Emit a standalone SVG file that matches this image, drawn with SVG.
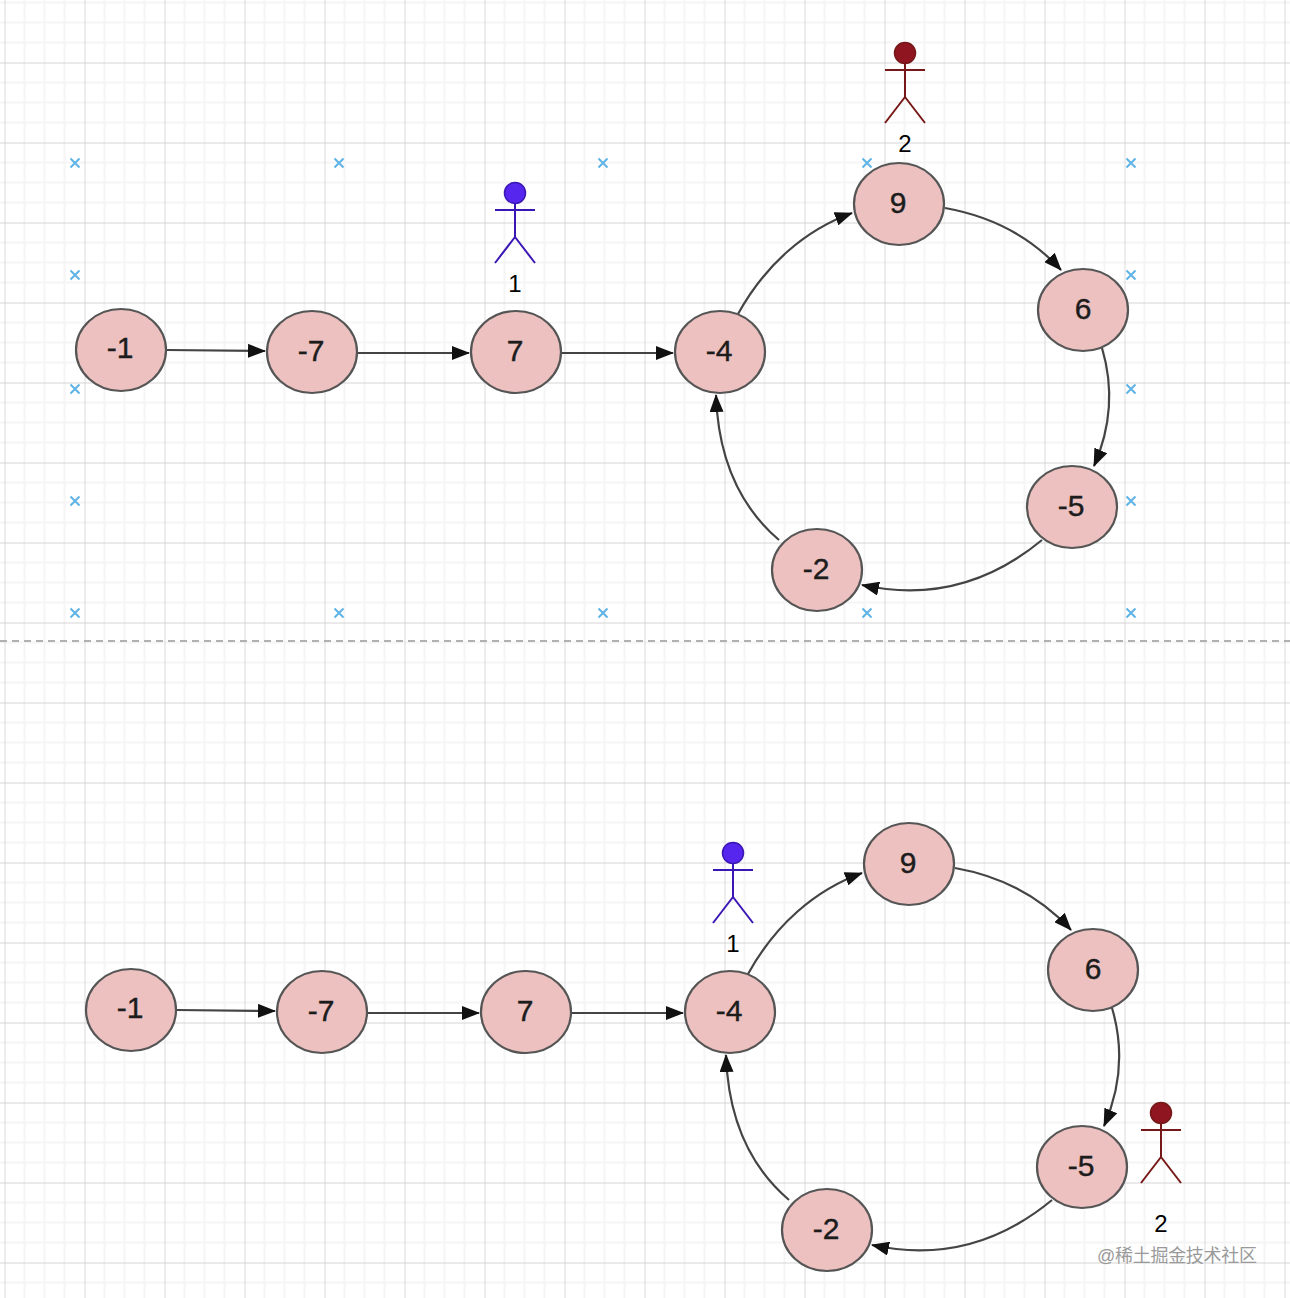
<svg xmlns="http://www.w3.org/2000/svg" width="1290" height="1298" viewBox="0 0 1290 1298">
<style>
.n ellipse{fill:#ecc1c0;stroke:#555;stroke-width:2.200}
.n text{font:30px "Liberation Sans",Arial,sans-serif;fill:#1c1c1c;stroke:#1c1c1c;stroke-width:.4;text-anchor:middle}
.c{fill:none;stroke:#444;stroke-width:2.200;marker-end:url(#arrow)}
.x{stroke:#5fb4e6;stroke-width:2;fill:none}
.a text{font:24px "Liberation Sans",Arial,sans-serif;fill:#000;text-anchor:middle}
.a line{stroke-width:2}
.blue line{stroke:#3a16b4}.blue circle{fill:#5626ee;stroke:#3a16b4;stroke-width:1.5}
.red line{stroke:#761818}.red circle{fill:#8f1520;stroke:#761818;stroke-width:1.5}
</style>
<defs>
<marker id="arrow" viewBox="0 0 18 14" refX="17" refY="7" markerWidth="18" markerHeight="14" markerUnits="userSpaceOnUse" orient="auto"><path d="M0 0L18 7L0 14Z" fill="#111"/></marker>
<pattern id="grid" width="80" height="80" patternUnits="userSpaceOnUse" x="4.500" y="-17.500">
<path d="M20 0V80M40 0V80M60 0V80M0 20H80M0 40H80M0 60H80" stroke="#f5f5f5" stroke-width="2" fill="none"/>
<path d="M0 0V80M0 0H80" stroke="#c8c8c8" stroke-width="1.300" fill="none"/>
</pattern>
<path id="cross" class="x" d="M-4.500 -4.500L4.500 4.500M-4.500 4.500L4.500 -4.500"/>
</defs>
<rect width="1290" height="1298" fill="#fff"/>
<rect width="1290" height="1298" fill="url(#grid)"/>
<line x1="0" y1="641" x2="1290" y2="641" stroke="#b0b0b0" stroke-width="2" stroke-dasharray="7 5"/>
<g id="crosses">
<use href="#cross" x="75" y="163"/><use href="#cross" x="339" y="163"/><use href="#cross" x="603" y="163"/><use href="#cross" x="867" y="163"/><use href="#cross" x="1131" y="163"/>
<use href="#cross" x="75" y="275"/><use href="#cross" x="1131" y="275"/>
<use href="#cross" x="75" y="389"/><use href="#cross" x="1131" y="389"/>
<use href="#cross" x="75" y="501"/><use href="#cross" x="1131" y="501"/>
<use href="#cross" x="75" y="613"/><use href="#cross" x="339" y="613"/><use href="#cross" x="603" y="613"/><use href="#cross" x="867" y="613"/><use href="#cross" x="1131" y="613"/>
</g>
<g id="connectors">
<path class="c" d="M167 350L265 351"/>
<path class="c" d="M358 353H469"/>
<path class="c" d="M562 353H673"/>
<path class="c" d="M738 314C765 265 805 230 852 213"/>
<path class="c" d="M945 208C990 216 1030 236 1061 270"/>
<path class="c" d="M1102 348C1113 385 1112 425 1094 466"/>
<path class="c" d="M1042 540C990 583 930 600 862 585"/>
<path class="c" d="M779 540C738 505 718 455 716 395"/>
<path class="c" d="M177 1010L275 1011"/>
<path class="c" d="M368 1013H479"/>
<path class="c" d="M572 1013H683"/>
<path class="c" d="M748 974C775 925 815 890 862 873"/>
<path class="c" d="M955 868C1000 876 1040 896 1071 930"/>
<path class="c" d="M1112 1008C1123 1045 1122 1085 1104 1126"/>
<path class="c" d="M1052 1200C1000 1243 940 1260 872 1245"/>
<path class="c" d="M789 1200C748 1165 728 1115 726 1055"/>
</g>
<g id="n1" class="n"><ellipse cx="121" cy="350" rx="45" ry="41"/><text x="120" y="358">-1</text></g>
<g id="n2" class="n"><ellipse cx="312" cy="352" rx="45" ry="41"/><text x="311" y="361">-7</text></g>
<g id="n3" class="n"><ellipse cx="516" cy="352" rx="45" ry="41"/><text x="515" y="361">7</text></g>
<g id="n4" class="n"><ellipse cx="720" cy="352" rx="45" ry="41"/><text x="719" y="361">-4</text></g>
<g id="n5" class="n"><ellipse cx="899" cy="204" rx="45" ry="41"/><text x="898" y="213">9</text></g>
<g id="n6" class="n"><ellipse cx="1083" cy="310" rx="45" ry="41"/><text x="1083" y="319">6</text></g>
<g id="n7" class="n"><ellipse cx="1072" cy="507" rx="45" ry="41"/><text x="1071" y="516">-5</text></g>
<g id="n8" class="n"><ellipse cx="817" cy="570" rx="45" ry="41"/><text x="816" y="579">-2</text></g>
<g id="m1" class="n"><ellipse cx="131" cy="1010" rx="45" ry="41"/><text x="130" y="1018">-1</text></g>
<g id="m2" class="n"><ellipse cx="322" cy="1012" rx="45" ry="41"/><text x="321" y="1021">-7</text></g>
<g id="m3" class="n"><ellipse cx="526" cy="1012" rx="45" ry="41"/><text x="525" y="1021">7</text></g>
<g id="m4" class="n"><ellipse cx="730" cy="1012" rx="45" ry="41"/><text x="729" y="1021">-4</text></g>
<g id="m5" class="n"><ellipse cx="909" cy="864" rx="45" ry="41"/><text x="908" y="873">9</text></g>
<g id="m6" class="n"><ellipse cx="1093" cy="970" rx="45" ry="41"/><text x="1093" y="979">6</text></g>
<g id="m7" class="n"><ellipse cx="1082" cy="1167" rx="45" ry="41"/><text x="1081" y="1176">-5</text></g>
<g id="m8" class="n"><ellipse cx="827" cy="1230" rx="45" ry="41"/><text x="826" y="1239">-2</text></g>
<g id="a1" class="a blue"><circle cx="515" cy="193" r="10.500"/><line x1="515" y1="203" x2="515" y2="237"/><line x1="495" y1="210" x2="535" y2="210"/><line x1="515" y1="237" x2="495" y2="263"/><line x1="515" y1="237" x2="535" y2="263"/><text x="515" y="292">1</text></g>
<g id="a2" class="a red"><circle cx="905" cy="53" r="10.500"/><line x1="905" y1="63" x2="905" y2="97"/><line x1="885" y1="70" x2="925" y2="70"/><line x1="905" y1="97" x2="885" y2="123"/><line x1="905" y1="97" x2="925" y2="123"/><text x="905" y="152">2</text></g>
<g id="a3" class="a blue"><circle cx="733" cy="853" r="10.500"/><line x1="733" y1="863" x2="733" y2="897"/><line x1="713" y1="870" x2="753" y2="870"/><line x1="733" y1="897" x2="713" y2="923"/><line x1="733" y1="897" x2="753" y2="923"/><text x="733" y="952">1</text></g>
<g id="a4" class="a red"><circle cx="1161" cy="1113" r="10.500"/><line x1="1161" y1="1123" x2="1161" y2="1157"/><line x1="1141" y1="1130" x2="1181" y2="1130"/><line x1="1161" y1="1157" x2="1141" y2="1183"/><line x1="1161" y1="1157" x2="1181" y2="1183"/><text x="1161" y="1232">2</text></g>
<text x="1097" y="1262" font-family="'Liberation Sans','Noto Sans CJK SC',sans-serif" font-size="18" fill="#9a9a9a" textLength="160" lengthAdjust="spacing">@稀土掘金技术社区</text>
</svg>
